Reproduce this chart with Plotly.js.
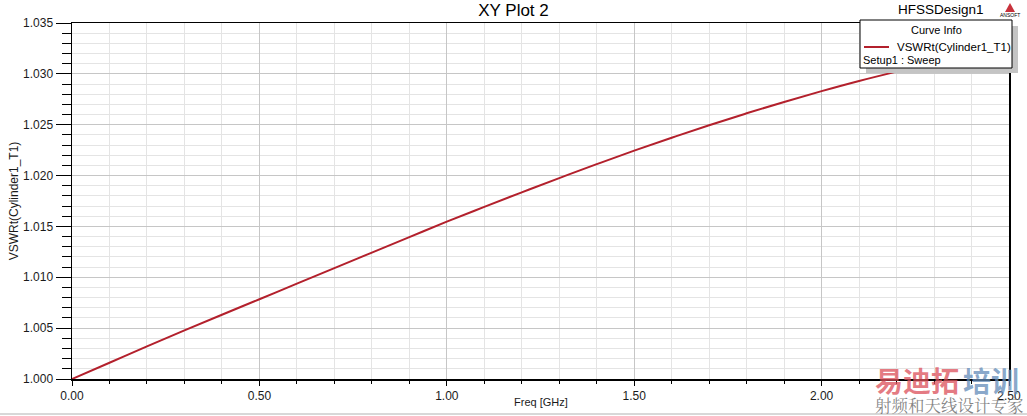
<!DOCTYPE html>
<html>
<head>
<meta charset="utf-8">
<script src="https://cdn.plot.ly/plotly-3.0.1.min.js"></script>
<style>html,body{margin:0;padding:0;background:#fff;}#chart{width:1027px;height:416px;}</style>
</head>
<body>
<div id="chart"></div>
<script>
// Data
const freqGHz = [0.0, 0.1, 0.2, 0.3, 0.4, 0.5, 0.6, 0.7, 0.8, 0.9, 1.0, 1.1, 1.2, 1.3, 1.4, 1.5, 1.6, 1.7, 1.8, 1.9, 2.0, 2.1, 2.2, 2.3, 2.4, 2.5];
const vswr = [1.00000, 1.00160, 1.00320, 1.00478, 1.00632, 1.00784, 1.00937, 1.01090, 1.01243, 1.01395, 1.01547, 1.01692, 1.01835, 1.01975, 1.02112, 1.02245, 1.02372, 1.02495, 1.02612, 1.02724, 1.02830, 1.02930, 1.03022, 1.03110, 1.03190, 1.03265];
const seriesName = "VSWRt(Cylinder1_T1)";
const seriesSetup = "Setup1 : Sweep";
const chartTitle = "XY Plot 2";
const designName = "HFSSDesign1";
const xTitle = "Freq [GHz]";
const yTitle = "VSWRt(Cylinder1_T1)";

const W = 1027, H = 416;
const M = {l: 72, r: 18, t: 23, b: 37};
const pw = W - M.l - M.r, ph = H - M.t - M.b;
const px = x => (x - M.l) / pw;
const py = y => (H - M.b - y) / ph;

const FONT = "Arial, 'Liberation Sans', sans-serif";

const trace = {
  x: freqGHz, y: vswr, type: 'scatter', mode: 'lines',
  line: {color: '#b3202c', width: 2, shape: 'spline'},
  name: seriesName, showlegend: false, hoverinfo: 'skip'
};

const shapes = [
  // legend shadow
  {type:'rect', xref:'paper', yref:'paper', x0:px(866), x1:px(1018), y0:py(73), y1:py(26), fillcolor:'#c4c4c4', line:{width:0}, layer:'above'},
  // legend box
  {type:'rect', xref:'paper', yref:'paper', x0:px(860), x1:px(1012), y0:py(68), y1:py(20), fillcolor:'#ffffff', line:{color:'#000', width:1}, layer:'above'},
  // legend sample line
  {type:'line', xref:'paper', yref:'paper', x0:px(864), x1:px(889), y0:py(47), y1:py(47), line:{color:'#b3202c', width:2}, layer:'above'},
  // ANSOFT logo triangle
  {type:'path', xref:'paper', yref:'paper', path:`M ${px(1005)} ${py(12)} L ${px(1010)} ${py(3)} L ${px(1015)} ${py(12)} Z`, fillcolor:'#c8323c', line:{width:0}, layer:'above'},
  // bottom light band line
  {type:'line', xref:'paper', yref:'paper', x0:px(0), x1:px(1027), y0:py(414), y1:py(414), line:{color:'#d8d8d8', width:2}, layer:'above'}
];

const annotations = [
  {text: designName, xref:'paper', yref:'paper', x:px(986), y:py(9), xanchor:'right', yanchor:'middle', showarrow:false, font:{family:FONT, size:13.5, color:'#000'}},
  {text: 'ANSOFT', xref:'paper', yref:'paper', x:px(1010), y:py(15), xanchor:'center', yanchor:'middle', showarrow:false, font:{family:FONT, size:5, color:'#000'}},
  {text: 'Curve Info', xref:'paper', yref:'paper', x:px(936), y:py(30), xanchor:'center', yanchor:'middle', showarrow:false, font:{family:FONT, size:11, color:'#000'}},
  {text: seriesName, xref:'paper', yref:'paper', x:px(895), y:py(47), xanchor:'left', yanchor:'middle', showarrow:false, font:{family:FONT, size:11.5, color:'#000'}},
  {text: seriesSetup, xref:'paper', yref:'paper', x:px(861), y:py(60), xanchor:'left', yanchor:'middle', showarrow:false, font:{family:FONT, size:11, color:'#000'}},
  // x title
  {text: xTitle, xref:'paper', yref:'paper', x:0.5, y:py(402), xanchor:'center', yanchor:'middle', showarrow:false, font:{family:FONT, size:11, color:'#1a1a1a'}},
  // watermark
  {text: '<b>易迪拓</b>', xref:'paper', yref:'paper', x:px(873), y:py(380), xanchor:'left', yanchor:'middle', showarrow:false, font:{family:"'Noto Sans CJK SC'", size:28, color:'rgba(220,80,90,0.75)'}},
  {text: '<b>培训</b>', xref:'paper', yref:'paper', x:px(961), y:py(380), xanchor:'left', yanchor:'middle', showarrow:false, font:{family:"'Noto Sans CJK SC'", size:28, color:'rgba(100,140,185,0.75)'}},
  {text: '射频和天线设计专家', xref:'paper', yref:'paper', x:px(873), y:py(405), xanchor:'left', yanchor:'middle', showarrow:false, font:{family:"'Noto Serif CJK SC', 'Noto Sans CJK SC'", size:16.5, color:'rgba(110,110,110,0.85)'}}
];

const layout = {
  width: W, height: H,
  margin: M,
  paper_bgcolor: '#fff', plot_bgcolor: '#fff',
  font: {family: FONT, size: 12, color: '#1a1a1a'},
  title: {text: chartTitle, x: 0.5, xref: 'container', xanchor: 'center', y: 1 - 10/H, yref: 'container', yanchor: 'middle', font: {family: FONT, size: 17, color: '#000'}},
  showlegend: false,
  xaxis: {
    range: [0, 2.5], dtick: 0.5, tick0: 0, tickformat: '.2f',
    showline: true, linecolor: '#000', linewidth: 1.5, mirror: true,
    ticks: 'outside', ticklen: 5, tickcolor: '#000', tickwidth: 1,
    showgrid: true, gridcolor: '#c6c6c6', gridwidth: 1, zeroline: false,
    tickfont: {family: FONT, size: 12, color: '#1a1a1a'},
    minor: {dtick: 0.1, ticks: 'outside', ticklen: 3, tickcolor: '#000', showgrid: true, gridcolor: '#e4e4e4', gridwidth: 1},
    automargin: false, fixedrange: true
  },
  yaxis: {
    range: [1.0, 1.035], dtick: 0.005, tick0: 1.0, tickformat: '.3f',
    showline: true, linecolor: '#000', linewidth: 1.5, mirror: true,
    ticks: 'outside', ticklen: 15, tickcolor: '#000', tickwidth: 1,
    showgrid: true, gridcolor: '#c6c6c6', gridwidth: 1, zeroline: false,
    tickfont: {family: FONT, size: 12, color: '#1a1a1a'},
    minor: {dtick: 0.001, ticks: 'outside', ticklen: 9, tickcolor: '#000', showgrid: true, gridcolor: '#e4e4e4', gridwidth: 1},
    title: {text: yTitle, standoff: 2, font: {family: FONT, size: 12, color: '#1a1a1a'}},
    automargin: false, fixedrange: true
  },
  shapes: shapes,
  annotations: annotations
};

Plotly.newPlot('chart', [trace], layout, {displayModeBar: false, staticPlot: true});
</script>
</body>
</html>
